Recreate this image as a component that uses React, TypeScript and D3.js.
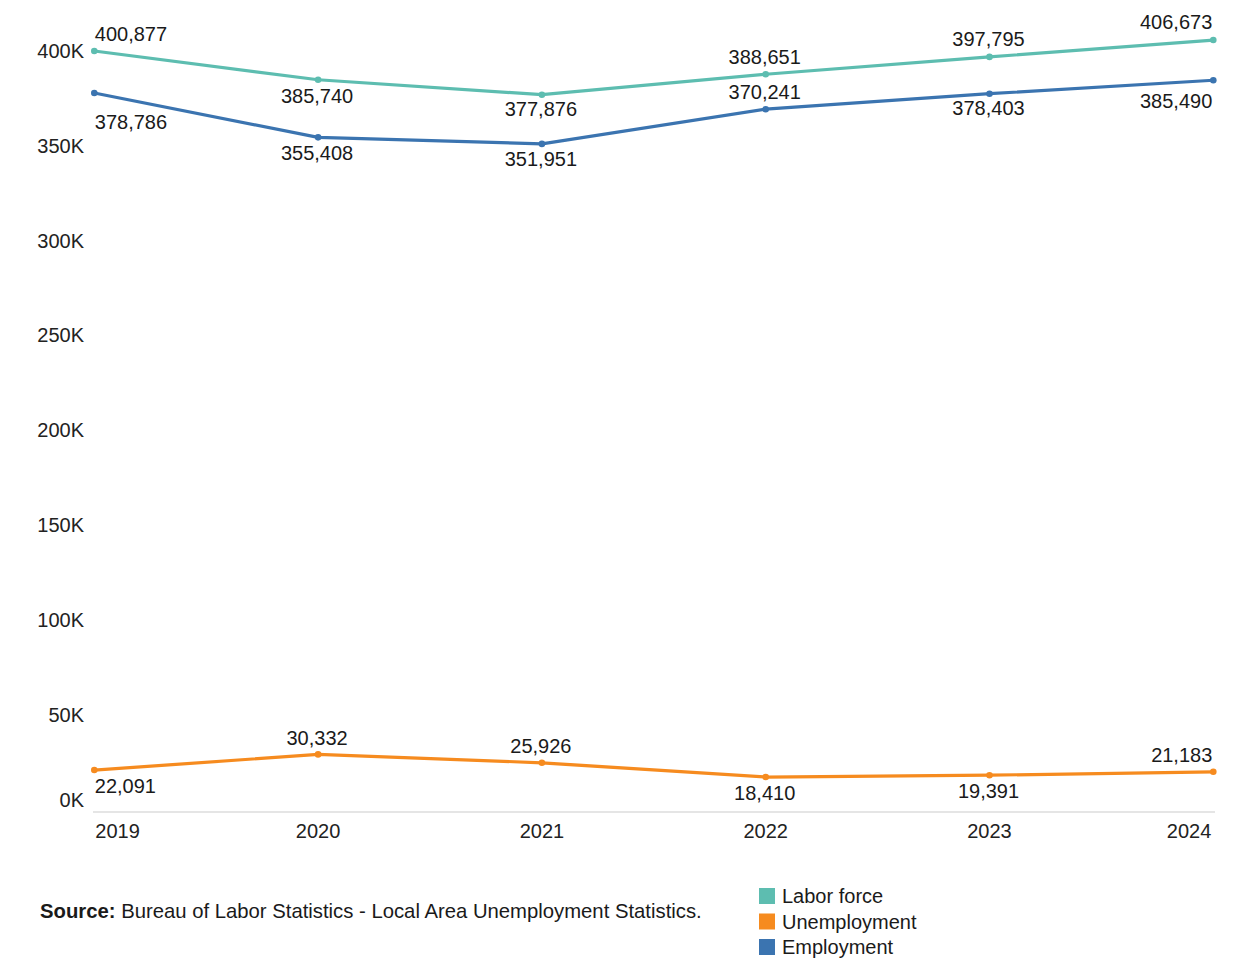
import React from 'react';
import * as d3 from 'd3';

const years = ['2019', '2020', '2021', '2022', '2023', '2024'];
const laborForce = [400877, 385740, 377876, 388651, 397795, 406673];
const unemployment = [22091, 30332, 25926, 18410, 19391, 21183];
const employment = [378786, 355408, 351951, 370241, 378403, 385490];
const yTicks = [0, 50000, 100000, 150000, 200000, 250000, 300000, 350000, 400000];
const seriesNames = ['Labor force', 'Unemployment', 'Employment'];
const sourceLabel = 'Source:';
const sourceText = ' Bureau of Labor Statistics - Local Area Unemployment Statistics.';

// label placement (vertical offset of label centre from the point), not data
const labelOffsets: Record<string, number[]> = {
  'Labor force': [-17, 16, 14, -17, -18, -18],
  Unemployment: [16, -16, -17, 16, 16, -17],
  Employment: [29, 16, 15, -17, 14, 21],
};

const COLORS: Record<string, string> = {
  'Labor force': '#5dbdb0',
  Unemployment: '#f68b1f',
  Employment: '#3b74b0',
};

const FONT = '"Liberation Sans", Arial, Helvetica, sans-serif';
const FS = 20;

export default function App() {
  const W = 1244;
  const H = 959;
  const x = d3.scalePoint<string>().domain(years).range([94.3, 1213.3]);
  const y = d3.scaleLinear().domain([0, 400000]).range([812, 52.7]);
  const fmt = d3.format(',');

  const series = [
    { name: 'Unemployment', values: unemployment },
    { name: 'Employment', values: employment },
    { name: 'Labor force', values: laborForce },
  ];

  const line = d3
    .line<number>()
    .x((_, i) => x(years[i]) as number)
    .y((d) => y(d));

  return (
    <svg
      width={W}
      height={H}
      style={{ position: 'absolute', left: 0, top: 0, background: '#fff', fontFamily: FONT }}
    >
      <rect x={0} y={0} width={W} height={H} fill="#fff" />
      {/* y axis tick labels */}
      {yTicks.map((t) => (
        <text
          key={t}
          x={84}
          y={t === 0 ? y(t) - 12 : y(t) - 2}
          dy="0.35em"
          textAnchor="end"
          fontSize={FS}
          fill="#222"
        >
          {t / 1000 + 'K'}
        </text>
      ))}
      {/* x axis line */}
      <line x1={93} x2={1215} y1={812} y2={812} stroke="#dcdcdc" strokeWidth={1.5} />
      {years.map((yr, i) => (
        <text
          key={yr}
          x={(x(yr) as number) + (i === 0 ? 1 : i === years.length - 1 ? -2 : 0)}
          y={831}
          dy="0.35em"
          textAnchor={i === 0 ? 'start' : i === years.length - 1 ? 'end' : 'middle'}
          fontSize={FS}
          fill="#222"
        >
          {yr}
        </text>
      ))}
      {/* lines */}
      {series.map((s) => (
        <g key={s.name}>
          <path d={line(s.values) || ''} fill="none" stroke={COLORS[s.name]} strokeWidth={3.2} strokeLinejoin="round" />
          {s.values.map((v, i) => (
            <circle key={i} cx={x(years[i]) as number} cy={y(v)} r={3.3} fill={COLORS[s.name]} />
          ))}
        </g>
      ))}
      {/* data labels */}
      {series.map((s) =>
        s.values.map((v, i) => (
          <text
            key={s.name + i}
            x={(x(years[i]) as number) + (i === 0 ? 0.5 : -1)}
            y={y(v) + labelOffsets[s.name][i]}
            dy="0.35em"
            textAnchor={i === 0 ? 'start' : i === years.length - 1 ? 'end' : 'middle'}
            fontSize={FS}
            fill="#1a1a1a"
          >
            {fmt(v)}
          </text>
        ))
      )}
      {/* source */}
      <text x={40} y={918} fontSize={20.3} fill="#1a1a1a">
        <tspan fontWeight="bold">{sourceLabel}</tspan>
        <tspan>{sourceText}</tspan>
      </text>
      {/* legend */}
      {seriesNames.map((n, i) => (
        <g key={n} transform={`translate(759, ${888 + i * 25.5})`}>
          <rect x={0} y={0} width={16} height={16} fill={COLORS[n]} />
          <text x={23} y={8} dy="0.35em" fontSize={FS} fill="#1a1a1a">
            {n}
          </text>
        </g>
      ))}
    </svg>
  );
}
